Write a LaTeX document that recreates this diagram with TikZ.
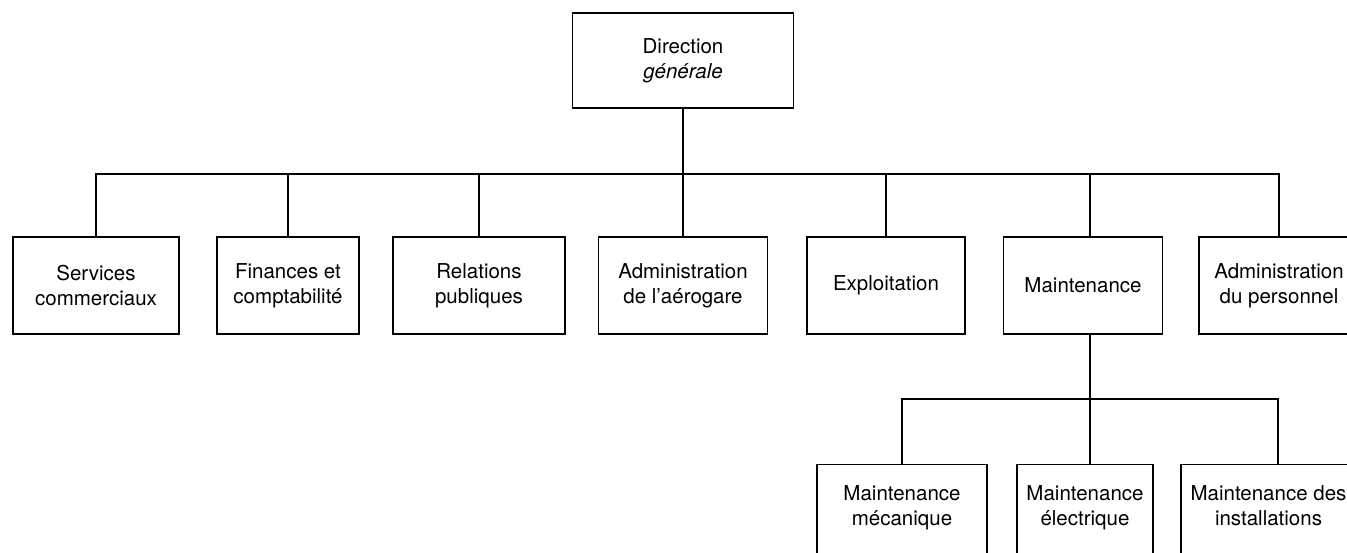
\documentclass[tikz,border=0pt]{standalone}
\usepackage{fontspec}
\setmainfont{TeX Gyre Heros}
\begin{document}
\begin{tikzpicture}[x=1pt,y=-1pt,
  box/.style={draw, line width=1.2pt, inner sep=0pt, align=center,
    font=\fontsize{20.5}{25}\selectfont},
  midbox/.style={box, minimum height=97pt},
  lowbox/.style={box, minimum height=114pt, anchor=north},
  link/.style={line width=1.2pt}]
\useasboundingbox (0,0) rectangle (1347,553);
\clip (0,0) rectangle (1347,553);
% top
\node[box, minimum width=221pt, minimum height=95pt] (dg) at (683,60.5) {Direction\\\textit{générale}};
% middle row
\node[midbox, minimum width=166pt] (sc) at (96,285.5) {Services\\commerciaux};
\node[midbox, minimum width=142pt] (fc) at (288,285.5) {Finances et\\comptabilité};
\node[midbox, minimum width=172pt] (rp) at (479,285.5) {Relations\\publiques};
\node[midbox, minimum width=169pt] (aa) at (683,285.5) {Administration\\de l’aérogare};
\node[midbox, minimum width=158pt] (ex) at (886,285.5) {Exploitation};
\node[midbox, minimum width=159pt] (mt) at (1083,285.5) {Maintenance};
\node[midbox, minimum width=160pt] (ap) at (1279,285.5) {Administration\\du personnel};
% lower row
\node[lowbox, minimum width=170pt] (mm) at (902,464) {Maintenance\\mécanique\\\strut};
\node[lowbox, minimum width=136pt] (me) at (1085,464) {Maintenance\\électrique\\\strut};
\node[lowbox, minimum width=175pt] (mi) at (1268.5,464) {Maintenance des\\installations\\\strut};
% connectors
\coordinate (bus) at (0,174);
\coordinate (bus2) at (0,399);
\draw[link] (dg.south) -- (aa.north);
\draw[link] (sc.north) |- (ap.north |- bus) -- (ap.north);
\draw[link] (fc.north) -- (fc.north |- bus);
\draw[link] (rp.north) -- (rp.north |- bus);
\draw[link] (ex.north) -- (ex.north |- bus);
\draw[link] ([xshift=7pt]mt.north) -- ([xshift=7pt]mt.north |- bus);
\draw[link] ([xshift=7pt]mt.south) -- ([xshift=5pt]me.north);
\draw[link] (mm.north) |- ([xshift=9.5pt]mi.north |- bus2) -- ([xshift=9.5pt]mi.north);
\end{tikzpicture}
\end{document}
